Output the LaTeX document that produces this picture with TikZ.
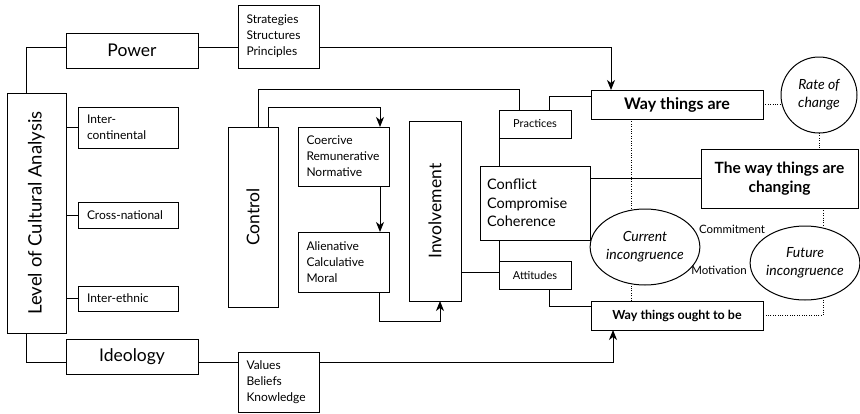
\documentclass[tikz,border=0pt]{standalone}
\usepackage{fontspec}
\setmainfont{Lato}
\usetikzlibrary{arrows.meta,shapes.geometric}
\begin{document}
\begin{tikzpicture}[x=1pt,y=-1pt,
  every node/.style={inner sep=0pt,outer sep=0pt},
  box/.style={draw,line width=1pt,rectangle},
  oval/.style={draw,line width=1pt,ellipse},
  link/.style={line width=1pt},
  tiplink/.style={link,-{Stealth[length=10pt,width=8pt,inset=3pt]}},
  dotlink/.style={line width=1pt,dash pattern=on 1pt off 1.4pt},
  big/.style={font=\fontsize{17.5}{20}\selectfont},
  small/.style={font=\fontsize{12}{16}\selectfont},
  tiny/.style={font=\fontsize{11}{13}\selectfont},
]
\useasboundingbox (0,0) rectangle (860,413);

% left column: level of analysis and its two branches
\node[box,font=\fontsize{18.5}{20}\selectfont,minimum width=59pt,minimum height=240pt] (level) at (36.5,213)
  {\rotatebox{90}{Level of Cultural Analysis}};
\node[box,big,minimum width=132pt,minimum height=35pt] (power) at (132,50.5) {Power};
\node[box,big,minimum width=132pt,minimum height=35pt] (ideology) at (132,356.5) {Ideology};

\node[box,small,minimum width=100pt,minimum height=41pt,align=left,text width=82pt] (intercont) at (128,127.5) {Inter-\\continental};
\node[box,small,minimum width=100pt,minimum height=26pt,align=left,text width=82pt] (cross) at (128,215) {Cross-national};
\node[box,small,minimum width=100pt,minimum height=25pt,align=left,text width=82pt] (ethnic) at (128,298.5) {Inter-ethnic};

\node[box,small,minimum width=81pt,minimum height=63pt,align=left,text width=64pt] (strat) at (278.5,36.5) {Strategies\\Structures\\Principles};
\node[box,small,minimum width=81pt,minimum height=60pt,align=left,text width=64pt] (values) at (278.5,382) {Values\\Beliefs\\Knowledge};

% control and involvement
\node[box,big,minimum width=50pt,minimum height=180pt] (control) at (253,217) {\rotatebox{90}{Control}};
\node[box,small,minimum width=91pt,minimum height=59pt,align=left,text width=74pt] (coercive) at (343.5,156.5) {Coercive\\Remunerative\\Normative};
\node[box,small,minimum width=91pt,minimum height=60pt,align=left,text width=74pt] (alien) at (343.5,262) {Alienative\\Calculative\\Moral};
\node[box,big,minimum width=52pt,minimum height=180pt] (invol) at (435,211) {\rotatebox{90}{Involvement}};

% practices, attitudes and their resolution
\node[box,tiny,minimum width=72pt,minimum height=28pt] (practices) at (535,124) {Practices};
\node[box,tiny,minimum width=72pt,minimum height=28pt] (attitudes) at (535,275) {Attitudes};
\node[box,minimum width=110pt,minimum height=74pt,align=left,text width=96pt,font=\fontsize{14.5}{18.5}\selectfont] (conflict) at (535,203) {Conflict\\Compromise\\Coherence};

% right side: states and incongruences
\node[box,font=\bfseries\fontsize{16}{19}\selectfont,minimum width=172pt,minimum height=29pt] (wayare) at (677,104.5) {Way things are};
\node[box,font=\bfseries\fontsize{12.5}{15}\selectfont,minimum width=172pt,minimum height=29pt] (wayought) at (677,315.5) {Way things ought to be};
\node[box,font=\bfseries\fontsize{15.5}{19}\selectfont,minimum width=157pt,minimum height=59pt,align=center] (changing) at (779.5,178.5) {The way things are\\changing};

\node[draw,line width=1pt,circle,minimum size=76pt,align=center,font=\itshape\fontsize{14}{18}\selectfont] (rate) at (819,95) {Rate of\\change};
\node[oval,minimum width=92pt,minimum height=76pt,align=center,font=\itshape\fontsize{14}{18}\selectfont] (current) at (645,247) {Current\\incongruence};
\node[oval,minimum width=106pt,minimum height=74pt,align=center,font=\itshape\fontsize{14}{18}\selectfont] (future) at (805,263) {Future\\incongruence};

\node[font=\fontsize{11.5}{14}\selectfont] (commit) at (732,229) {Commitment};
\node[font=\fontsize{11.5}{14}\selectfont] (motiv) at (719,270) {Motivation};

% connectors on the left
\draw[link] ([xshift=19pt]level.north west) |- ([yshift=3.5pt]power.west);
\draw[link] ([xshift=19pt]level.south west) |- ([yshift=-5.5pt]ideology.west);
\draw[link] (level.east |- intercont.west) -- (intercont.west);
\draw[link] (level.east |- cross.west) -- (cross.west);
\draw[link] (level.east |- ethnic.west) -- (ethnic.west);
\draw[link] ([yshift=3.5pt]power.east) -- ([yshift=3.5pt]power.east -| strat.west);
\draw[tiplink] ([yshift=3.5pt]power.east -| strat.east) -| ([xshift=-66pt]wayare.north);
\draw[link] ([yshift=-5.5pt]ideology.east) -- ([yshift=-5.5pt]ideology.east -| values.west);
\draw[tiplink] ([yshift=-5.5pt]ideology.east -| values.east) -| ([xshift=-64pt]wayought.south);

% control chain
\draw[link] ([xshift=5pt]control.north) -- ++(0,-38) -| ([xshift=-16pt]practices.north);
\draw[tiplink] ([xshift=15pt]control.north) -- ++(0,-20) -| ([xshift=36.5pt]coercive.north);
\draw[tiplink] ([xshift=36.5pt]coercive.south) -- ([xshift=36.5pt]alien.north);
\draw[tiplink] ([xshift=35.5pt]alien.south) -- ++(0,29) -| ([xshift=5pt]invol.south);
\draw[link] ([yshift=3pt]attitudes.west -| invol.east) -- ([yshift=3pt]attitudes.west);

% practices / conflict / attitudes
\draw[link] (practices.south west) -- (practices.south west |- conflict.north);
\draw[link] (attitudes.north west |- conflict.south) -- (attitudes.north west);
\draw[link] ([xshift=14pt]practices.north) |- ([yshift=8.5pt]wayare.west);
\draw[link] ([xshift=14pt]attitudes.south) |- ([yshift=9.5pt]wayought.west);
\draw[link] (conflict.east |- changing.west) -- (changing.west);

% dotted relations
\draw[dotlink] (wayare.east) -- (wayare.east -| rate.west);
\draw[dotlink] (rate.south) -- (rate.south |- changing.north);
\draw[dotlink] ([xshift=-46pt]wayare.south) -- ([xshift=-46pt]wayare.south |- current.north);
\draw[dotlink] ([xshift=-46pt]wayought.north) -- ([xshift=-46pt]wayought.north |- current.south);
\draw[dotlink] ([xshift=43.5pt]changing.south) -- ([xshift=43.5pt]changing.south |- future.north);
\draw[dotlink] ([xshift=18pt]future.south) |- (wayought.east);
\end{tikzpicture}
\end{document}
